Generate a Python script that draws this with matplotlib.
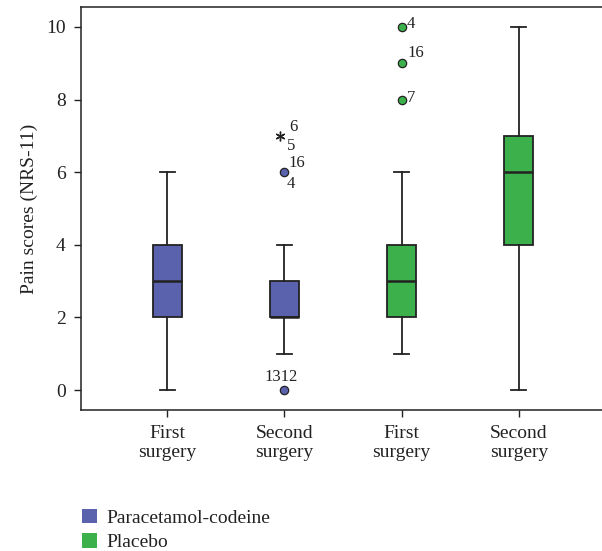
import matplotlib
matplotlib.use("Agg")
import matplotlib.pyplot as plt
from matplotlib.patches import Patch

plt.rcParams['font.family'] = ['Liberation Serif', 'DejaVu Serif']

# ---- data ----
categories = ["First\nsurgery", "Second\nsurgery", "First\nsurgery", "Second\nsurgery"]
groups = ["Paracetamol-codeine", "Paracetamol-codeine", "Placebo", "Placebo"]
whisker_low = [0, 1, 1, 0]
q1 = [2, 2, 2, 4]
median = [3, 2, 3, 6]
q3 = [4, 3, 4, 7]
whisker_high = [6, 4, 6, 10]
# circle outliers: (box index, value)
outlier_box = [1, 1, 2, 2, 2]
outlier_val = [6, 0, 10, 9, 8]
# extreme (asterisk) outliers
extreme_box = [1]
extreme_val = [7]
# outlier case labels
label_box = [1, 1, 1, 1, 1, 2, 2, 2]
label_val = [7, 7, 6, 6, 0, 10, 9, 8]
label_text = ["6", "5", "16", "4", "1312", "4", "16", "7"]
label_dx = [5, 3, 4, 2, -3, 5, 6, 5]
label_dy = [9, -10, 9, -12, 13, 3, 10, 2]
label_ha = ["left", "left", "left", "left", "center", "left", "left", "left"]
yticks = [0, 2, 4, 6, 8, 10]

colors = {"Paracetamol-codeine": "#5a62ad", "Placebo": "#3cb04b"}
ink = "#222222"
FS = 14

fig = plt.figure(figsize=(6.02, 5.51), dpi=100)
ax = fig.add_axes([81/602, 1-410/551, (605-81)/602, (410-7)/551])

positions = [1, 2, 3, 4]
stats = []
for i in range(4):
    stats.append(dict(whislo=whisker_low[i], q1=q1[i], med=median[i], q3=q3[i],
                      whishi=whisker_high[i], fliers=[], label=categories[i]))

bp = ax.bxp(stats, positions=positions, widths=0.25, patch_artist=True,
            showfliers=False,
            boxprops=dict(edgecolor=ink, linewidth=1.3),
            medianprops=dict(color=ink, linewidth=1.8),
            whiskerprops=dict(color=ink, linewidth=1.3),
            capprops=dict(color=ink, linewidth=1.3),
            capwidths=0.13)
for patch, g in zip(bp["boxes"], groups):
    patch.set_facecolor(colors[g])

for b, v in zip(outlier_box, outlier_val):
    ax.plot(positions[b], v, 'o', ms=6, mfc=colors[groups[b]], mec=ink, mew=0.9, zorder=5)
for b, v in zip(extreme_box, extreme_val):
    ax.plot(positions[b] - 0.035, v, marker=(6, 2, 0), ms=7, color=ink, mew=1.0, zorder=5)

for b, v, t, dx, dy, ha in zip(label_box, label_val, label_text, label_dx, label_dy, label_ha):
    ax.annotate(t, (positions[b], v), xytext=(dx*0.72, dy*0.72), textcoords="offset points",
                ha=ha, va="center", fontsize=12, color=ink)

ax.set_xlim(0.265, 4.735)
ax.set_ylim(-0.55, 10.55)
ax.set_xticks(positions)
ax.set_xticklabels(categories, fontsize=FS, linespacing=1.1, color=ink)
ax.set_yticks(yticks)
ax.set_yticklabels([str(t) for t in yticks], fontsize=FS, color=ink)
ax.tick_params(length=5, width=1, color=ink, pad=6)
ax.set_ylabel("Pain scores (NRS-11)", fontsize=FS, color=ink, labelpad=6)
for s in ax.spines.values():
    s.set_color(ink)
    s.set_linewidth(1.1)
ax.spines["right"].set_visible(False)

handles = [Patch(facecolor=colors["Paracetamol-codeine"], edgecolor="none"),
           Patch(facecolor=colors["Placebo"], edgecolor="none")]
fig.legend(handles, ["Paracetamol-codeine", "Placebo"], loc="upper left",
           bbox_to_anchor=(64/602, 1-491/551), frameon=False, fontsize=FS,
           handlelength=0.78, handleheight=0.78, handletextpad=0.5, labelspacing=0.35,
           labelcolor=ink)

fig.savefig("out.png", dpi=100)
